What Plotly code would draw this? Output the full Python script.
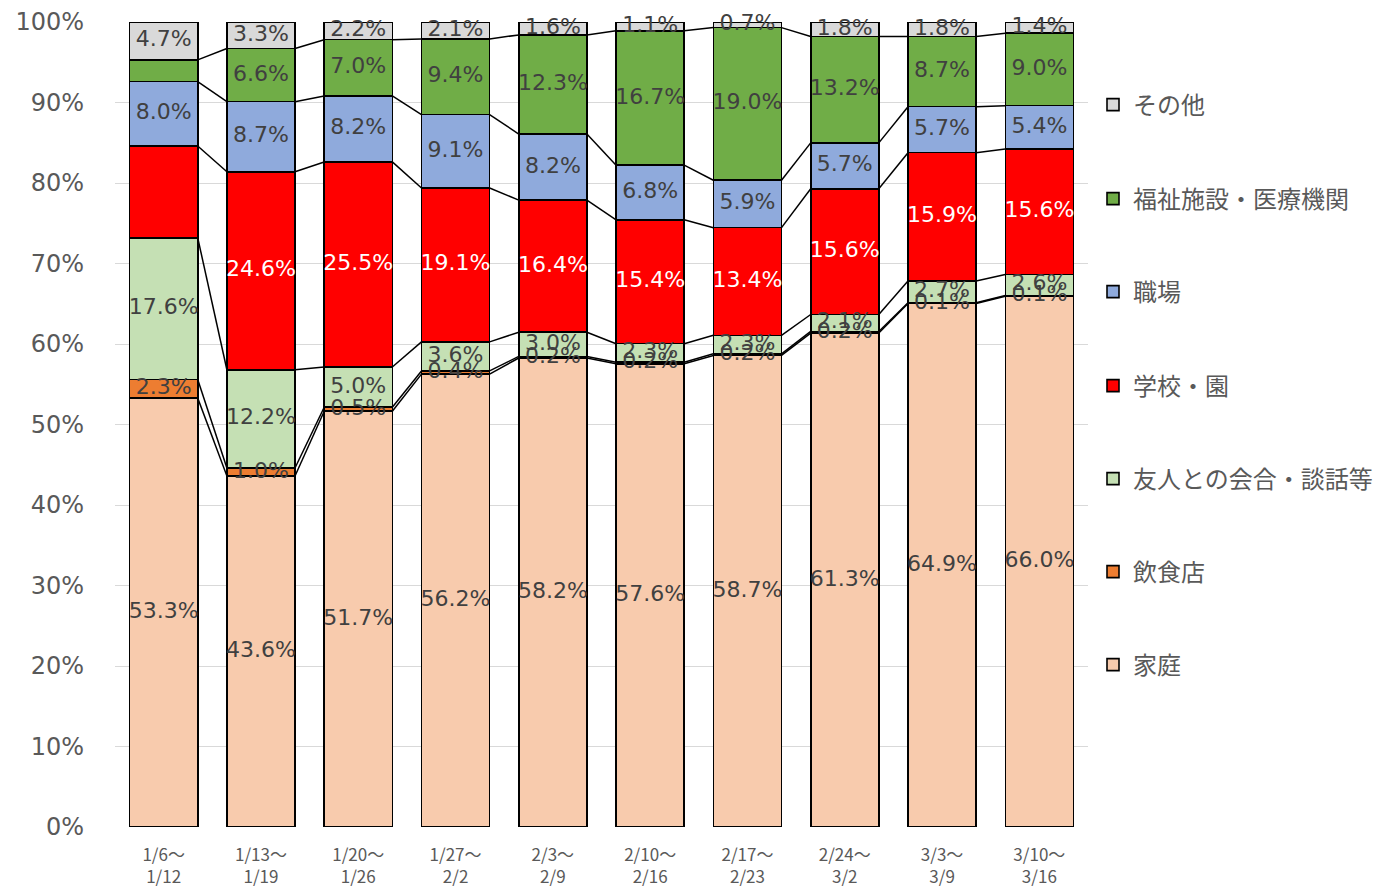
import plotly.graph_objects as go
import numpy as np

categories = ["1/6～<br>1/12", "1/13～<br>1/19", "1/20～<br>1/26", "1/27～<br>2/2", "2/3～<br>2/9",
              "2/10～<br>2/16", "2/17～<br>2/23", "2/24～<br>3/2", "3/3～<br>3/9", "3/10～<br>3/16"]

kateii = [53.3, 43.6, 51.7, 56.2, 58.2, 57.6, 58.7, 61.3, 64.9, 66.0]
inshokuten = [2.3, 1.0, 0.5, 0.4, 0.2, 0.2, 0.2, 0.2, 0.1, 0.1]
yujin = [17.6, 12.2, 5.0, 3.6, 3.0, 2.3, 2.3, 2.1, 2.7, 2.6]
gakko = [11.4, 24.6, 25.5, 19.1, 16.4, 15.4, 13.4, 15.6, 15.9, 15.6]
shokuba = [8.0, 8.7, 8.2, 9.1, 8.2, 6.8, 5.9, 5.7, 5.7, 5.4]
fukushi = [2.7, 6.6, 7.0, 9.4, 12.3, 16.7, 19.0, 13.2, 8.7, 9.0]
sonota = [4.7, 3.3, 2.2, 2.1, 1.6, 1.1, 0.7, 1.8, 1.8, 1.4]

series_names = ["家庭", "飲食店", "友人との会合・談話等", "学校・園", "職場", "福祉施設・医療機関", "その他"]
series_values = [kateii, inshokuten, yujin, gakko, shokuba, fukushi, sonota]
series_colors = ["#F8CBAD", "#ED7D31", "#C5E0B4", "#FF0000", "#8FAADC", "#70AD47", "#D9D9D9"]
label_colors = ["#404040", "#404040", "#404040", "#FFFFFF", "#404040", "#404040", "#404040"]
# labels not shown in the original (series index, category index)
hidden_labels = {(3, 0), (5, 0)}

n = len(categories)
x = np.arange(n)
bar_width = 0.7

vals = np.array(series_values, dtype=float)
totals = vals.sum(axis=0)
norm = vals / totals * 100.0
cum_top = np.cumsum(norm, axis=0)
cum_bot = cum_top - norm

W, H = 1379, 880
fig = go.Figure()

# legend item centres (px from top of figure), bottom series last
legend_centres = [657, 564, 471, 378, 284, 191, 97]
legend_layouts = {}
for k, name in enumerate(series_names):
    key = "legend" if k == 0 else f"legend{k + 1}"
    fig.add_trace(go.Bar(
        x=x, y=norm[k], name=name, width=bar_width,
        marker=dict(color=series_colors[k], line=dict(color="#000000", width=1.6)),
        legend=key, textposition="none", hoverinfo="name+y",
    ))
    legend_layouts[key] = dict(
        xref="container", yref="container", x=1085 / W, y=1 - legend_centres[k] / H,
        xanchor="left", yanchor="middle", bgcolor="rgba(0,0,0,0)",
        font=dict(family="Noto Sans CJK JP", size=24, color="#595959"),
        itemwidth=30,
    )

# series lines (connect segment tops between adjacent bars)
for k in range(len(series_names) - 1):
    lx, ly = [], []
    for i in range(n - 1):
        lx += [x[i] + bar_width / 2, x[i + 1] - bar_width / 2, None]
        ly += [cum_top[k][i], cum_top[k][i + 1], None]
    fig.add_trace(go.Scatter(x=lx, y=ly, mode="lines", line=dict(color="#000000", width=1.5),
                             showlegend=False, hoverinfo="skip"))

# data labels
for k, name in enumerate(series_names):
    texts = ["" if (k, i) in hidden_labels else f"{series_values[k][i]:.1f}%" for i in range(n)]
    mids = (cum_top[k] + cum_bot[k]) / 2
    fig.add_trace(go.Scatter(
        x=x, y=mids, mode="text", text=texts, textposition="middle center",
        textfont=dict(family="DejaVu Sans", size=22, color=label_colors[k]),
        showlegend=False, hoverinfo="skip", cliponaxis=False,
    ))

fig.update_layout(
    barmode="stack",
    width=W, height=H,
    margin=dict(l=107, r=299, t=14, b=61, autoexpand=False),
    plot_bgcolor="#FFFFFF", paper_bgcolor="#FFFFFF",
    showlegend=True,
    xaxis=dict(
        range=[-0.5, n - 0.5], tickvals=list(x), ticktext=categories,
        showgrid=False, zeroline=False, showline=False, ticks="",
        ticklabelstandoff=16, automargin=False,
        tickfont=dict(family="Noto Sans CJK JP", size=17, color="#595959"),
    ),
    yaxis=dict(
        range=[0, 100], tickvals=list(range(0, 101, 10)),
        ticktext=[f"{v}%" for v in range(0, 101, 10)],
        showgrid=True, gridcolor="#D9D9D9", gridwidth=1.3,
        zeroline=False, showline=False, ticks="",
        ticklabelstandoff=30, automargin=False,
        tickfont=dict(family="DejaVu Sans", size=24, color="#595959"),
    ),
)
fig.update_layout(**legend_layouts)

fig.write_html("out.html")
